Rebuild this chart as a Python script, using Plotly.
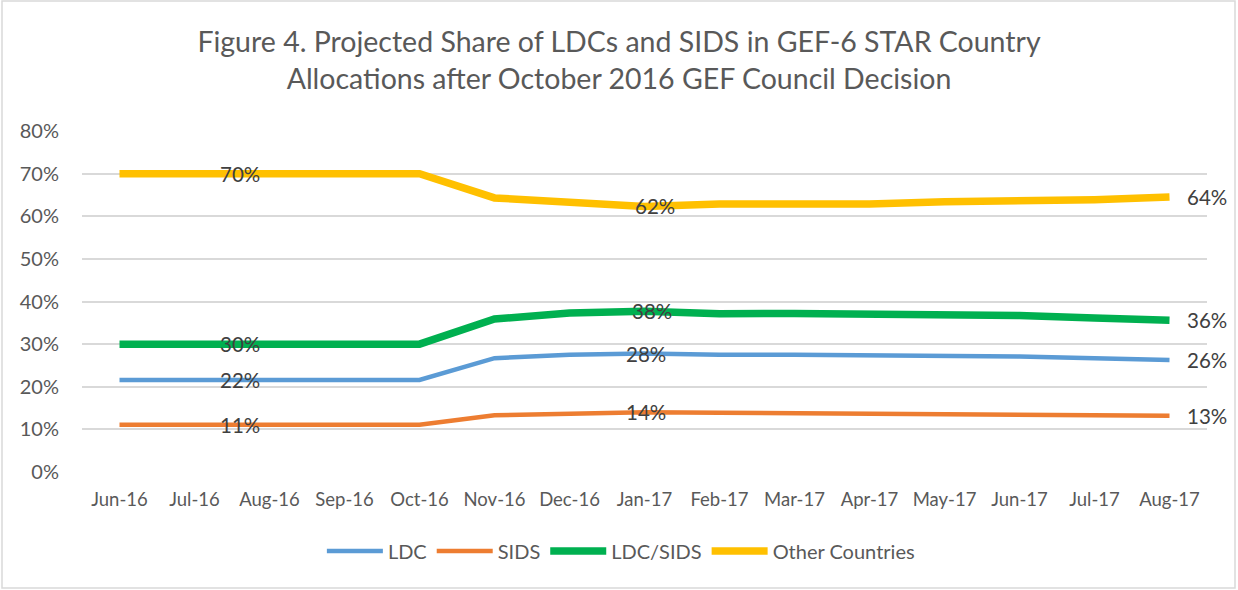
import plotly.graph_objects as go

months = ["Jun-16", "Jul-16", "Aug-16", "Sep-16", "Oct-16", "Nov-16", "Dec-16", "Jan-17",
          "Feb-17", "Mar-17", "Apr-17", "May-17", "Jun-17", "Jul-17", "Aug-17"]

ldc = [0.216, 0.216, 0.216, 0.216, 0.216, 0.267, 0.275, 0.278, 0.275, 0.275, 0.274, 0.271, 0.271, 0.267, 0.263]
sids = [0.111, 0.111, 0.111, 0.111, 0.111, 0.133, 0.137, 0.140, 0.139, 0.138, 0.138, 0.137, 0.136, 0.135, 0.132]
ldc_sids = [0.300, 0.300, 0.300, 0.300, 0.300, 0.359, 0.373, 0.377, 0.371, 0.372, 0.371, 0.368, 0.367, 0.361, 0.356]
other = [0.700, 0.700, 0.700, 0.700, 0.700, 0.643, 0.631, 0.623, 0.629, 0.629, 0.629, 0.634, 0.635, 0.639, 0.645]

label_idx = [2, 7, 14]

series = [
    ("LDC", ldc, "#5B9BD5", 4.5, 1),
    ("SIDS", sids, "#ED7D31", 4.5, 1),
    ("LDC/SIDS", ldc_sids, "#00B050", 7.5, 7),
    ("Other Countries", other, "#FFC000", 7.5, 10),
]

FONT = "Lato, 'Open Sans', sans-serif"

fig = go.Figure()
annotations = []
for name, vals, color, width, jan_shift in series:
    fig.add_trace(go.Scatter(
        x=months, y=vals, name=name, mode="lines",
        line=dict(color=color, width=width),
        cliponaxis=False,
    ))
    for i in label_idx:
        if i == len(vals) - 1:
            xanchor, xshift = "left", 15
        elif i == 2:
            xanchor, xshift = "center", -30
        else:
            xanchor, xshift = "center", jan_shift
        annotations.append(dict(
            x=months[i], y=vals[i], xref="x", yref="y",
            text=f"{round(vals[i]*100):.0f}%", showarrow=False,
            xanchor=xanchor, yanchor="middle", xshift=xshift,
            font=dict(family=FONT, size=20.5, color="#404040"),
        ))

fig.update_layout(
    width=1238, height=590,
    margin=dict(l=82, r=31, t=131, b=118),
    paper_bgcolor="white", plot_bgcolor="white",
    font=dict(family=FONT, color="#595959"),
    title=dict(
        text="Figure 4. Projected Share of LDCs and SIDS in GEF-6 STAR Country<br>Allocations after October 2016 GEF Council Decision",
        x=0.5, xanchor="center", xref="container",
        y=1 - 52 / 590, yanchor="middle", yref="container",
        font=dict(family=FONT, size=28.5, color="#595959"),
    ),
    xaxis=dict(
        type="category", showgrid=False, showline=False, ticks="",
        tickfont=dict(family=FONT, size=18.5, color="#595959"),
        range=[-0.5, len(months) - 0.5], ticklabelstandoff=14,
    ),
    yaxis=dict(
        range=[0, 0.8], dtick=0.1, tickformat=".0%",
        showgrid=True, gridcolor="#D9D9D9", gridwidth=1.5,
        zeroline=False, showline=False,
        tickfont=dict(family=FONT, size=20, color="#595959"),
        ticklabelstandoff=22,
    ),
    legend=dict(
        orientation="h", x=0.479, xanchor="center", y=-79 / 341, yanchor="middle",
        font=dict(family=FONT, size=20, color="#595959"),
        itemwidth=56, traceorder="normal",
    ),
    annotations=annotations,
    shapes=[dict(type="rect", xref="paper", yref="paper",
                 x0=(2 - 82) / 1125, x1=(1235 - 82) / 1125,
                 y0=(472 - 588) / 341, y1=(472 - 1) / 341,
                 line=dict(color="#D9D9D9", width=1.5))],
)

fig.write_html("out.html", post_script="document.body.style.margin='0';",
               config={"displayModeBar": False})
